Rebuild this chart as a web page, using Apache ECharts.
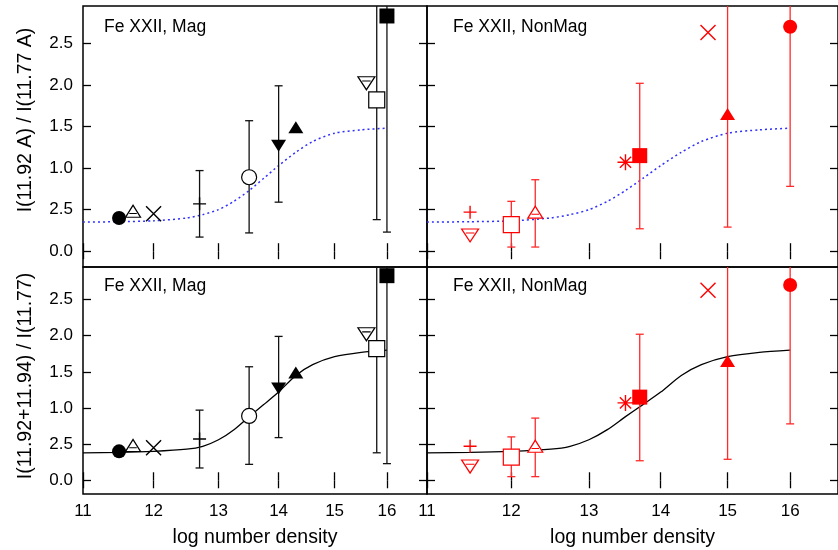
<!DOCTYPE html>
<html>
<head>
<meta charset="utf-8">
<script src="https://cdn.jsdelivr.net/npm/echarts@6/dist/echarts.min.js"></script>
<style>html,body{margin:0;padding:0;background:#fff}#c{width:838px;height:550px}</style>
</head>
<body>
<div id="c"></div>
<script>
// ---------- data ----------
const xTickValues = [11, 12, 13, 14, 15, 16];
const yTickValues = [0, 0.5, 1.0, 1.5, 2.0, 2.5];
const yTickLabels = ['0.0', '2.5', '1.0', '1.5', '2.0', '2.5'];

const panelTitles = ['Fe XXII, Mag', 'Fe XXII, NonMag', 'Fe XXII, Mag', 'Fe XXII, NonMag'];
const yTitleTop = 'I(11.92 A) / I(11.77 A)';
const yTitleBottom = 'I(11.92+11.94) / I(11.77)';
const xTitle = 'log number density';

// Mag observations
const magX   = [11.5, 11.7, 12.0, 12.7, 13.5, 14.0, 14.3, 15.6, 15.8, 16.0];
const magY   = [0.40, 0.48, 0.45, 0.57, 0.89, 1.27, 1.49, 2.02, 1.82, 2.83];
const magLo  = [null, null, null, 0.17, 0.22, 0.59, null, null, 0.38, 0.23];
const magHi  = [null, null, null, 0.97, 1.57, 1.99, null, null, 3.20, 3.20];
const magMarkers = ['filledCircle', 'openTriangle', 'cross', 'plus', 'openCircle',
                    'filledTriangleDown', 'filledTriangle', 'openTriangleDown', 'openSquare', 'filledSquare'];

// NonMag observations
const nonMagX  = [11.5, 11.5, 12.0, 12.3, 13.5, 13.7, 14.7, 15.0, 16.0];
const nonMagY  = [0.47, 0.19, 0.32, 0.47, 1.07, 1.15, 2.63, 1.65, 2.70];
const nonMagLo = [null, null, 0.05, 0.05, null, 0.27, null, 0.29, 0.78];
const nonMagHi = [null, null, 0.60, 0.86, null, 2.02, null, 3.20, 3.20];
const nonMagMarkers = ['plus', 'openTriangleDown', 'openSquare', 'openTriangle', 'asterisk',
                       'filledSquare', 'cross', 'filledTriangle', 'filledCircle'];

// model curves
const curveX      = [11.0, 11.5, 12.0, 12.5, 12.75, 13.0, 13.25, 13.5, 13.75, 14.0, 14.3, 14.6, 15.0, 15.5, 16.0];
const ratioModel  = [0.35, 0.355, 0.365, 0.40, 0.44, 0.50, 0.60, 0.73, 0.88, 1.03, 1.19, 1.32, 1.42, 1.46, 1.48];
const sumModel    = [0.38, 0.385, 0.40, 0.43, 0.47, 0.56, 0.70, 0.88, 1.05, 1.22, 1.45, 1.60, 1.71, 1.77, 1.80];

// ---------- styling ----------
const FONT = "'Liberation Sans', Arial, Helvetica, sans-serif";
const X_MIN = 11, X_MAX = 16.81, Y_MIN = -0.19, Y_MAX = 2.95;

const SYMBOLS = {
  filledCircle:       { symbol: 'circle', size: 14, kind: 'fill' },
  openCircle:         { symbol: 'circle', size: 15, kind: 'open' },
  filledSquare:       { symbol: 'rect', size: 15, kind: 'fill' },
  openSquare:         { symbol: 'rect', size: 16, kind: 'open' },
  filledTriangle:     { symbol: 'path://M6,0L12,10L0,10Z', size: [15, 12], kind: 'fill' },
  filledTriangleDown: { symbol: 'path://M0,0L12,0L6,10Z', size: [15, 12], kind: 'fill' },
  openTriangle:       { symbol: 'path://M6,0L12,10L0,10ZM3,6.8L9,6.8', size: [15, 12], kind: 'open' },
  openTriangleDown:   { symbol: 'path://M0,0L12,0L6,10ZM3,3.2L9,3.2', size: [17, 13], kind: 'open' },
  cross:              { symbol: 'path://M0,0L10,10M10,0L0,10', size: 15, kind: 'line' },
  plus:               { symbol: 'path://M0,5L10,5M5,0L5,10', size: 13, kind: 'line' },
  asterisk:           { symbol: 'path://M0,5L10,5M5,0L5,10M1.5,1.5L8.5,8.5M8.5,1.5L1.5,8.5', size: 16, kind: 'line' }
};

const grids = [
  { left: 83,  top: 6,   width: 344, height: 261 },
  { left: 427, top: 6,   width: 416, height: 261 },
  { left: 83,  top: 267, width: 344, height: 227 },
  { left: 427, top: 267, width: 416, height: 227 }
].map(g => Object.assign(g, { show: true, borderColor: '#000', borderWidth: 1.5, backgroundColor: 'transparent' }));

const tickStyle = { show: true, inside: true, length: 8, lineStyle: { color: '#000', width: 1.3 } };
const xAxes = [], yAxes = [];
for (let g = 0; g < 4; g++) {
  const isBottom = g >= 2, isLeft = (g % 2 === 0);
  ['bottom', 'top'].forEach(pos => {
    const showLab = isBottom && pos === 'bottom';
    xAxes.push({
      gridIndex: g, type: 'log', logBase: 10, min: X_MIN, max: X_MAX, position: pos,
      axisLine: { show: false }, splitLine: { show: false },
      axisTick: Object.assign({ customValues: xTickValues }, tickStyle),
      axisLabel: { show: showLab, customValues: xTickValues, margin: 9, color: '#000', fontSize: 17, fontFamily: FONT,
                   formatter: v => String(Math.round(v)) },
      name: showLab ? xTitle : '', nameLocation: 'middle', nameGap: 34,
      nameTextStyle: { color: '#000', fontSize: 19.5, fontFamily: FONT }
    });
  });
  ['left', 'right'].forEach(pos => {
    const showLab = isLeft && pos === 'left';
    yAxes.push({
      gridIndex: g, type: 'value', min: Y_MIN, max: Y_MAX, position: pos,
      axisLine: { show: false }, splitLine: { show: false },
      axisTick: Object.assign({ customValues: yTickValues }, tickStyle),
      axisLabel: { show: showLab, customValues: yTickValues, margin: 10, color: '#000', fontSize: 17, fontFamily: FONT,
                   formatter: v => { const i = yTickValues.findIndex(t => Math.abs(t - v) < 1e-9); return i >= 0 ? yTickLabels[i] : ''; } }
    });
  });
}

function markerItems(xs, ys, kinds, color) {
  return xs.map((x, i) => {
    const s = SYMBOLS[kinds[i]];
    let st;
    if (s.kind === 'fill') st = { color: color, borderWidth: 0, opacity: 1 };
    else if (s.kind === 'open') st = { color: '#fff', borderColor: color, borderWidth: 1.2, opacity: 1 };
    else st = { color: 'transparent', borderColor: color, borderWidth: 1.4, opacity: 1 };
    return { value: [x, ys[i]], symbol: s.symbol, symbolSize: s.size, itemStyle: st };
  });
}

function barItems(xs, lo, hi) {
  const out = [];
  xs.forEach((x, i) => { if (lo[i] != null) out.push([x, lo[i], hi[i]]); });
  return out;
}

function errorBarSeries(g, data, color) {
  return {
    type: 'custom', xAxisIndex: g * 2, yAxisIndex: g * 2, z: 3, silent: true,
    data: data, encode: { x: 0, y: [1, 2] },
    renderItem: (params, api) => {
      const cs = params.coordSys;
      const x = api.value(0);
      const pLo = api.coord([x, api.value(1)]);
      const pHi = api.coord([x, api.value(2)]);
      const topY = Math.max(pHi[1], cs.y);
      const botY = Math.min(pLo[1], cs.y + cs.height);
      const st = { stroke: color, lineWidth: 1.3 };
      const children = [{ type: 'line', shape: { x1: pLo[0], y1: botY, x2: pLo[0], y2: topY }, style: st }];
      const cap = 4;
      if (pLo[1] <= cs.y + cs.height) children.push({ type: 'line', shape: { x1: pLo[0] - cap, y1: pLo[1], x2: pLo[0] + cap, y2: pLo[1] }, style: st });
      if (pHi[1] >= cs.y) children.push({ type: 'line', shape: { x1: pHi[0] - cap, y1: pHi[1], x2: pHi[0] + cap, y2: pHi[1] }, style: st });
      return { type: 'group', children: children };
    }
  };
}

const series = [];
for (let g = 0; g < 4; g++) {
  const isMag = (g % 2 === 0), isTop = g < 2;
  const model = isTop ? ratioModel : sumModel;
  series.push({
    type: 'line', xAxisIndex: g * 2, yAxisIndex: g * 2, z: 2, silent: true,
    data: curveX.map((x, i) => [x, model[i]]),
    showSymbol: false, smooth: 0.25,
    lineStyle: isTop ? { color: '#2f2fff', width: 1.5, type: [2, 3] } : { color: '#000', width: 1.3 }
  });
  const color = isMag ? '#000' : '#ff0000';
  series.push(errorBarSeries(g, isMag ? barItems(magX, magLo, magHi) : barItems(nonMagX, nonMagLo, nonMagHi),
                             isMag ? '#111' : '#ff2a2a'));
  series.push({
    type: 'scatter', xAxisIndex: g * 2, yAxisIndex: g * 2, z: 4, silent: true,
    data: isMag ? markerItems(magX, magY, magMarkers, color) : markerItems(nonMagX, nonMagY, nonMagMarkers, color)
  });
}

const titlePos = [[104, 18], [453, 18], [104, 277], [453, 277]];
const titles = panelTitles.map((t, i) => ({
  text: t, left: titlePos[i][0], top: titlePos[i][1], padding: 0,
  textStyle: { color: '#000', fontSize: 17.5, fontWeight: 'normal', fontFamily: FONT }
}));

const chart = echarts.init(document.getElementById('c'), null, { renderer: 'canvas' });
chart.setOption({
  animation: false,
  backgroundColor: '#fff',
  title: titles,
  grid: grids,
  xAxis: xAxes,
  yAxis: yAxes,
  series: series,
  graphic: [
    { type: 'text', x: 26, y: 120, rotation: Math.PI / 2,
      style: { text: yTitleTop, fill: '#000', fontSize: 19.5, fontFamily: FONT, textAlign: 'center', textVerticalAlign: 'middle', align: 'center', verticalAlign: 'middle' } },
    { type: 'text', x: 26, y: 376, rotation: Math.PI / 2,
      style: { text: yTitleBottom, fill: '#000', fontSize: 19.5, fontFamily: FONT, textAlign: 'center', textVerticalAlign: 'middle', align: 'center', verticalAlign: 'middle' } }
  ]
});
</script>
</body>
</html>
